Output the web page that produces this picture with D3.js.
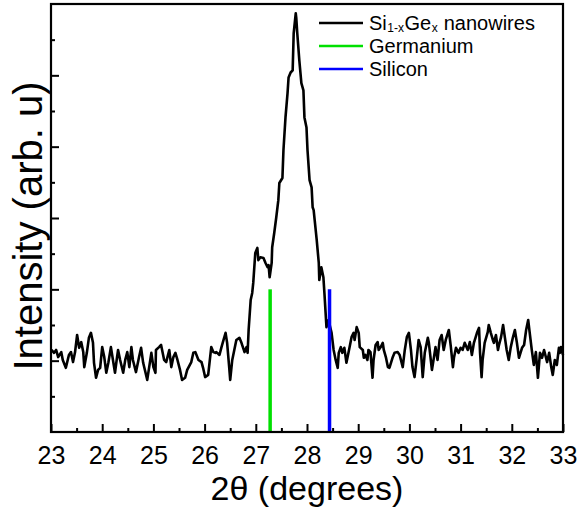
<!DOCTYPE html>
<html lang="en">
<head>
<meta charset="UTF-8">
<title>XRD SiGe nanowires</title>
<script src="https://d3js.org/d3.v7.min.js"></script>
<style>
    body, html { margin: 0; padding: 0; background: #fff; }
    text { font-family: "Liberation Sans", Arial, sans-serif; fill: #000; }
</style>
</head>
<body>
<div id="chart"></div>
<script>
// measured pattern (2theta in degrees, intensity in arb. units)
const twoTheta = [
    23.01, 23.06, 23.10, 23.14, 23.20, 23.23, 23.29, 23.35, 23.39, 23.43, 23.47, 23.51, 23.55, 23.59, 23.63, 23.65,
    23.70, 23.74, 23.78, 23.82, 23.84, 23.88, 23.92, 23.96, 24.00, 24.04, 24.08, 24.12, 24.17, 24.21, 24.25, 24.29,
    24.31, 24.35, 24.41, 24.45, 24.49, 24.53, 24.57, 24.60, 24.66, 24.72, 24.76, 24.80, 24.88, 24.96, 25.00, 25.04,
    25.05, 25.11, 25.15, 25.21, 25.25, 25.31, 25.35, 25.39, 25.43, 25.47, 25.52, 25.56, 25.62, 25.66, 25.74, 25.78,
    25.82, 25.88, 25.94, 25.97, 26.01, 26.07, 26.13, 26.17, 26.21, 26.23, 26.29, 26.33, 26.37, 26.41, 26.44, 26.48,
    26.50, 26.54, 26.58, 26.62, 26.68, 26.72, 26.78, 26.82, 26.84, 26.86, 26.90, 26.93, 26.95, 26.99, 27.03, 27.05,
    27.09, 27.15, 27.19, 27.23, 27.25, 27.27, 27.31, 27.32, 27.36, 27.40, 27.44, 27.46, 27.52, 27.54, 27.58, 27.62,
    27.64, 27.68, 27.72, 27.74, 27.78, 27.79, 27.81, 27.85, 27.89, 27.93, 27.95, 27.99, 28.01, 28.05, 28.09, 28.11,
    28.13, 28.15, 28.19, 28.23, 28.24, 28.28, 28.32, 28.34, 28.38, 28.42, 28.48, 28.52, 28.56, 28.60, 28.62, 28.66,
    28.69, 28.73, 28.77, 28.81, 28.87, 28.91, 28.93, 28.97, 29.01, 29.03, 29.09, 29.11, 29.14, 29.18, 29.20, 29.24,
    29.28, 29.30, 29.34, 29.38, 29.40, 29.44, 29.48, 29.50, 29.54, 29.58, 29.61, 29.67, 29.71, 29.77, 29.81, 29.87,
    29.91, 29.95, 29.99, 30.03, 30.06, 30.10, 30.14, 30.18, 30.22, 30.26, 30.30, 30.36, 30.38, 30.44, 30.48, 30.51,
    30.55, 30.59, 30.63, 30.67, 30.71, 30.77, 30.81, 30.85, 30.87, 30.91, 30.96, 31.00, 31.04, 31.08, 31.14, 31.18,
    31.22, 31.26, 31.32, 31.36, 31.38, 31.41, 31.43, 31.47, 31.53, 31.55, 31.59, 31.63, 31.65, 31.69, 31.73, 31.75,
    31.79, 31.83, 31.85, 31.90, 31.94, 31.98, 32.02, 32.06, 32.10, 32.14, 32.20, 32.24, 32.28, 32.32, 32.35, 32.39,
    32.43, 32.47, 32.51, 32.55, 32.59, 32.63, 32.69, 32.73, 32.77, 32.80, 32.84, 32.88, 32.92, 32.94, 32.96, 33.00
];
const intensity = [
    115, 111, 115, 105, 112, 101, 90, 108, 112, 98, 112, 136, 118, 126, 112, 91,
    111, 132, 139, 125, 97, 76, 87, 90, 119, 105, 83, 97, 119, 101, 83, 105,
    115, 101, 83, 101, 112, 91, 119, 101, 84, 105, 118, 97, 73, 111, 91, 83,
    115, 119, 122, 101, 98, 115, 91, 105, 111, 101, 87, 73, 76, 87, 98, 111,
    112, 101, 98, 90, 77, 80, 119, 112, 111, 112, 108, 119, 129, 139, 125, 91,
    73, 101, 115, 129, 132, 125, 112, 119, 111, 143, 185, 195, 209, 251, 258, 241,
    245, 244, 237, 231, 234, 217, 237, 259, 279, 301, 325, 349, 356, 395, 441, 475,
    497, 504, 507, 559, 587, 581, 559, 521, 489, 479, 441, 427, 395, 353, 343, 315,
    311, 297, 269, 237, 213, 231, 217, 195, 147, 157, 139, 115, 101, 90, 111, 119,
    111, 118, 97, 111, 133, 139, 129, 147, 139, 119, 115, 104, 108, 101, 115, 112,
    76, 101, 122, 126, 115, 119, 125, 115, 105, 91, 90, 104, 111, 112, 108, 91,
    115, 133, 139, 115, 91, 77, 101, 129, 119, 77, 111, 132, 125, 87, 105, 119,
    101, 129, 136, 115, 129, 143, 119, 91, 104, 118, 111, 118, 115, 125, 115, 126,
    108, 125, 139, 146, 111, 77, 101, 125, 140, 150, 139, 129, 125, 136, 115, 122,
    133, 150, 140, 115, 101, 119, 132, 143, 125, 104, 118, 122, 143, 157, 139, 115,
    94, 112, 76, 111, 104, 115, 98, 111, 91, 80, 101, 94, 118, 111, 119, 108
];

// reference peak positions
const refNames = ["Germanium", "Silicon"];
const refPositions = [27.28, 28.44];
const refHeights = [200, 200];

const xTicks = [23, 24, 25, 26, 27, 28, 29, 30, 31, 32, 33];

const colors = { "Germanium": "#00e000", "Silicon": "#0000ff", data: "#000" };

const width = 579, height = 512;
const margin = { top: 4, right: 16, bottom: 80, left: 51 };

const svg = d3.select("#chart").append("svg")
    .attr("width", width)
    .attr("height", height);

const x = d3.scaleLinear().domain([23, 33]).range([margin.left, width - margin.right]);
const y = d3.scaleLinear().domain([0, 600]).range([height - margin.bottom, margin.top]);

// data curve
const pts = twoTheta.map((t, i) => [t, intensity[i]]);
const line = d3.line().x(d => x(d[0])).y(d => y(d[1]));

svg.append("path")
    .datum(pts)
    .attr("d", line)
    .attr("fill", "none")
    .attr("stroke", colors.data)
    .attr("stroke-width", 2.6)
    .attr("stroke-linejoin", "round");

// reference lines
svg.selectAll(".ref")
    .data(refNames)
    .enter().append("line")
    .attr("class", "ref")
    .attr("x1", (d, i) => x(refPositions[i]))
    .attr("x2", (d, i) => x(refPositions[i]))
    .attr("y1", y(0))
    .attr("y2", (d, i) => y(refHeights[i]))
    .attr("stroke", d => colors[d])
    .attr("stroke-width", 3.5);

// axes (ticks inward)
const xMajor = d3.axisBottom(x).tickValues(xTicks).tickSize(-8).tickPadding(14).tickFormat(d3.format("d"));
const xMinor = d3.axisBottom(x).tickValues(d3.range(23.5, 33, 1)).tickSize(-4).tickFormat("");
const yMajor = d3.axisLeft(y).tickValues(d3.range(100, 600, 100)).tickSize(-8).tickFormat("");
const yMinor = d3.axisLeft(y).tickValues(d3.range(50, 600, 100)).tickSize(-4).tickFormat("");

function styleAxis(g) {
    g.select(".domain").remove();
    g.selectAll(".tick line").attr("stroke", "#000").attr("stroke-width", 2);
}

svg.append("g").attr("transform", `translate(0,${y(0)})`).call(xMajor).call(styleAxis)
    .selectAll("text").style("font-size", "25px").attr("fill", "#000");
svg.append("g").attr("transform", `translate(0,${y(0)})`).call(xMinor).call(styleAxis);
svg.append("g").attr("transform", `translate(${x(23)},0)`).call(yMajor).call(styleAxis);
svg.append("g").attr("transform", `translate(${x(23)},0)`).call(yMinor).call(styleAxis);

// frame
svg.append("rect")
    .attr("x", x(23)).attr("y", y(600))
    .attr("width", x(33) - x(23)).attr("height", y(0) - y(600))
    .attr("fill", "none").attr("stroke", "#000").attr("stroke-width", 2.2);

// axis titles
svg.append("text")
    .attr("x", (x(23) + x(33)) / 2)
    .attr("y", 500)
    .attr("text-anchor", "middle")
    .style("font-size", "34px")
    .text("2\u03B8 (degrees)");

svg.append("text")
    .attr("transform", `translate(42,226) rotate(-90)`)
    .attr("text-anchor", "middle")
    .style("font-size", "40px")
    .text("Intensity (arb. u)");

// legend
const legendItems = ["data", "Germanium", "Silicon"];
const legend = svg.append("g").attr("transform", "translate(319,23)");
const rows = legend.selectAll("g").data(legendItems).enter().append("g")
    .attr("transform", (d, i) => `translate(0,${i * 23})`);
rows.append("line")
    .attr("x1", 0).attr("x2", 44)
    .attr("stroke", d => colors[d])
    .attr("stroke-width", 2.6);

// label pieces laid out one after another (subscripts as separate texts)
rows.each(function (d) {
    const row = d3.select(this);
    const pieces = d === "data"
        ? [["Si", 0], ["1-x", 1], ["Ge", 0], ["x", 1], [" nanowires", 0]]
        : [[d, 0]];
    let cx = 50;
    pieces.forEach(([txt, sub]) => {
        const t = row.append("text")
            .attr("x", cx)
            .attr("y", sub ? 8.5 : 7)
            .style("font-size", sub ? "12px" : "20px")
            .style("white-space", "pre")
            .attr("xml:space", "preserve")
            .text(txt);
        cx += t.node().getComputedTextLength() + 0.5;
    });
});
</script>
</body>
</html>
